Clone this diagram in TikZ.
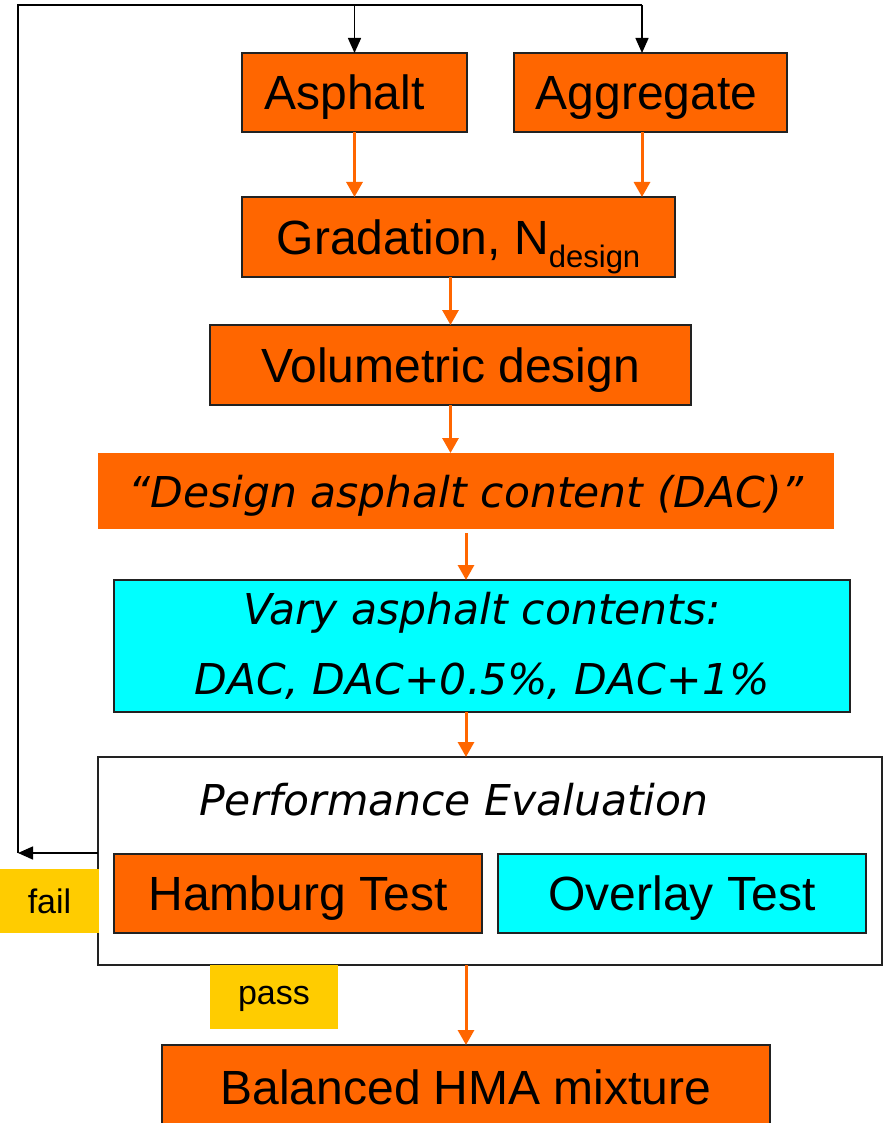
\documentclass[tikz,border=0pt]{standalone}
\usepackage{fontspec}
\setmainfont{Liberation Sans}
\newfontfamily\verd{DejaVu Sans}
\usetikzlibrary{arrows.meta}
\definecolor{orng}{HTML}{FF6600}
\definecolor{cyn}{HTML}{00FFFF}
\definecolor{yel}{HTML}{FFCC00}
\definecolor{edge}{HTML}{222222}
\begin{document}
\begin{tikzpicture}[x=1pt,y=-1pt,
  base/.style={inner sep=0pt, outer sep=0pt, align=center},
  obox/.style={base, draw=edge, line width=1.3pt, fill=orng, text depth=0pt, font=\fontsize{48}{52}\selectfont},
  cbox/.style={base, draw=edge, line width=1.3pt, fill=cyn},
  ylab/.style={base, fill=yel, font=\fontsize{34}{38}\selectfont},
  itx/.style={font=\verd\itshape\fontsize{42.5}{70}\selectfont},
  oarr/.style={draw=orng, line width=3pt, -{Triangle[width=16pt,length=15pt]}},
  barr/.style={draw=black, line width=1.5pt, -{Triangle[width=13pt,length=15pt]}},
  bline/.style={draw=black, line width=1.5pt}
]
\useasboundingbox[fill=white] (0,0) rectangle (886,1123);

% nodes
\node[obox, minimum width=225pt, minimum height=79pt] (asph) at (354.5,92.5) {Asphalt\hspace*{20pt}};
\node[obox, minimum width=273pt, minimum height=79pt] (aggr) at (650.5,92.5) {Aggregate\hspace*{8pt}};
\node[obox, minimum width=433pt, minimum height=80pt] (grad) at (458.5,237)
  {Gradation, N\raisebox{-0.27em}{\fontsize{31}{31}\selectfont design}};
\node[obox, minimum width=481pt, minimum height=80pt] (vol) at (450.5,365) {Volumetric design};
\node[base, fill=orng, minimum width=736pt, minimum height=76pt, itx, text depth=0pt] (dac) at (466,491)
  {“Design asphalt content (DAC)”};
\node[cbox, minimum width=736pt, minimum height=132pt, itx] (vary) at (482,646)
  {Vary asphalt contents:\\DAC, DAC+0.5\%, DAC+1\%};
\node[base, draw=edge, line width=1.3pt, fill=white, minimum width=784pt, minimum height=208pt] (perf) at (490,861) {};
\node[base, itx, anchor=center] (perftxt) at (454,800) {Performance Evaluation};
\node[obox, minimum width=368pt, minimum height=79pt] (ham) at (298,893.5) {Hamburg Test};
\node[cbox, minimum width=368pt, minimum height=79pt, text depth=0pt, font=\fontsize{48}{52}\selectfont] (ovl) at (682,893.5) {Overlay Test};
\node[ylab, minimum width=99pt, minimum height=64pt] (fail) at (49.5,901) {fail};
\node[ylab, minimum width=128pt, minimum height=64pt, text depth=3pt] (pass) at (274,997) {pass};
\node[obox, minimum width=608pt, minimum height=84pt] (bal) at (466,1087)
  {Balanced HMA mixture};

% feedback loop
\coordinate (tl) at (18,5);
\coordinate (tr) at (642,5);
\draw[barr] ([yshift=8pt]perf.west) -- ([yshift=8pt]perf.west -| tl);
\draw[bline] ([yshift=8pt]perf.west -| tl) -- (tl) -- (tr);
\draw[barr] (tr) -- (tr |- aggr.north);
\draw[barr] (asph.north |- tl) -- (asph.north);

% orange flow arrows
\draw[oarr] (asph.south) -- (asph.south |- grad.north);
\draw[oarr] (aggr.south -| tr) -- (tr |- grad.north);
\draw[oarr] (grad.south -| vol.north) -- (vol.north);
\draw[oarr] (vol.south) -- (vol.south |- dac.north);
\draw[oarr] ([yshift=-4pt]dac.south) -- (dac.south |- vary.north);
\draw[oarr] (vary.south -| dac.south) -- (dac.south |- perf.north);
\draw[oarr] (perf.south -| bal.north) -- (bal.north);
\end{tikzpicture}
\end{document}
